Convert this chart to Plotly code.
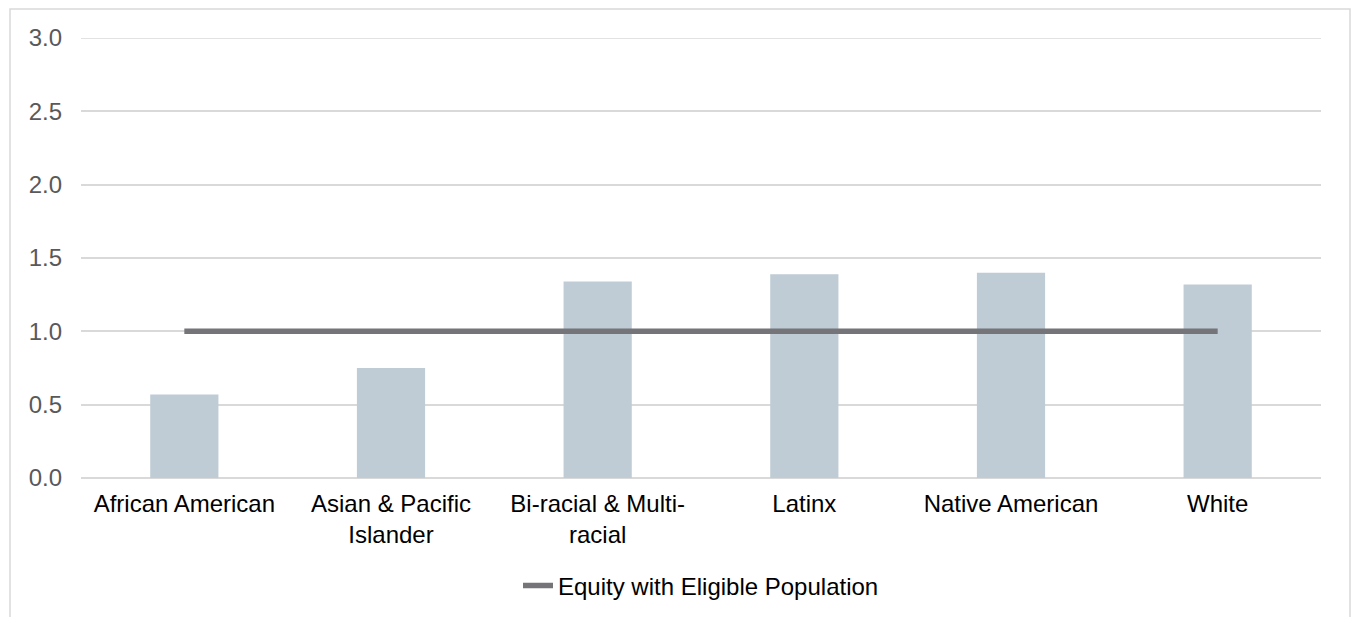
import plotly.graph_objects as go

categories = ["African American", "Asian & Pacific<br>Islander", "Bi-racial & Multi-<br>racial",
              "Latinx", "Native American", "White"]
ratio_values = [0.57, 0.75, 1.34, 1.39, 1.40, 1.32]
equity_values = [1.0, 1.0, 1.0, 1.0, 1.0, 1.0]
equity_name = "Equity with Eligible Population"
y_ticks = [0.0, 0.5, 1.0, 1.5, 2.0, 2.5, 3.0]

FONT = "Liberation Sans, Arial, sans-serif"

fig = go.Figure()
fig.add_trace(go.Bar(
    x=categories, y=ratio_values, width=0.33,
    marker=dict(color="#BFCBD5", line=dict(width=0)),
    showlegend=False, name="Ratio"))
fig.add_trace(go.Scatter(
    x=categories, y=equity_values, mode="lines",
    line=dict(color="#747479", width=5.5),
    name=equity_name))

L, R, T, B = 81, 32, 38, 139
W, H = 1353, 617
pw, ph = W - L - R, H - T - B

fig.update_layout(
    width=W, height=H,
    margin=dict(l=L, r=R, t=T, b=B, pad=0, autoexpand=False),
    paper_bgcolor="white", plot_bgcolor="white",
    font=dict(family=FONT, size=24, color="#000000"),
    showlegend=True,
    legend=dict(orientation="h", x=0.5, xanchor="center", y=-0.245, yanchor="middle",
                font=dict(size=24, color="#000000"), bgcolor="rgba(0,0,0,0)"),
    shapes=[
        dict(type="rect", xref="paper", yref="paper",
             x0=(10 - L) / pw, x1=(1350 - L) / pw,
             y0=-0.6, y1=(H - B - 9) / ph,
             line=dict(color="#D9D9D9", width=1.5), fillcolor="rgba(0,0,0,0)", layer="below"),
        dict(type="line", xref="paper", yref="y", x0=0, x1=1, y0=y_ticks[-1], y1=y_ticks[-1],
             line=dict(color="#D9D9D9", width=1.5), layer="below"),
    ],
)
fig.update_xaxes(showgrid=False, showline=False, zeroline=False, ticks="", automargin=False,
                 tickfont=dict(size=24, color="#000000"), ticklabelstandoff=9)
fig.update_yaxes(range=[0, 3], tickvals=y_ticks, ticktext=[f"{v:.1f}" for v in y_ticks],
                 showgrid=True, gridcolor="#D9D9D9", gridwidth=1.5, automargin=False,
                 zeroline=True, zerolinecolor="#D9D9D9", zerolinewidth=1.5,
                 showline=False, ticks="",
                 tickfont=dict(size=24, color="#595959"), ticklabelstandoff=18)

fig.write_html("out.html")
